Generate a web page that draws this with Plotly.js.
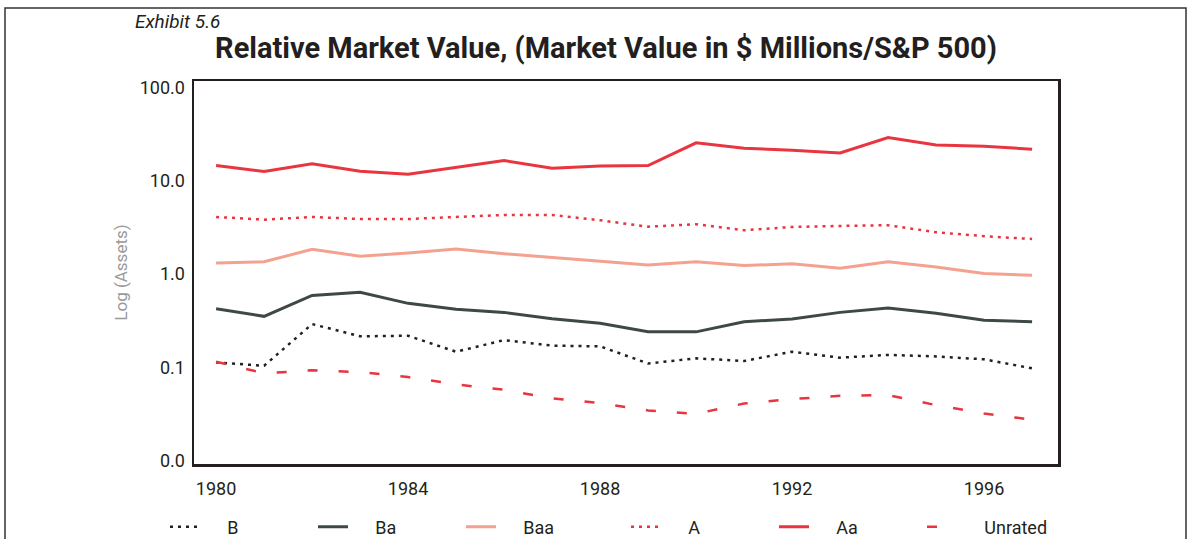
<!DOCTYPE html>
<html>
<head>
<meta charset="utf-8">
<script src="https://cdn.plot.ly/plotly-3.0.1.min.js"></script>
<style>html,body{margin:0;padding:0;background:#fff;}#chart{width:1189px;height:539px;}</style>
</head>
<body>
<div id="chart"></div>
<script>
const years = [1980,1981,1982,1983,1984,1985,1986,1987,1988,1989,1990,1991,1992,1993,1994,1995,1996,1997];
const seriesB = [0.113,0.104,0.291,0.215,0.218,0.147,0.196,0.171,0.168,0.110,0.125,0.117,0.147,0.127,0.136,0.131,0.122,0.0975];
const seriesBa = [0.425,0.352,0.59,0.637,0.485,0.42,0.388,0.332,0.296,0.241,0.24,0.308,0.33,0.388,0.432,0.379,0.319,0.308];
const seriesBaa = [1.31,1.35,1.84,1.55,1.68,1.85,1.65,1.5,1.35,1.25,1.35,1.23,1.29,1.15,1.35,1.19,1.01,0.97];
const seriesA = [4.08,3.82,4.08,3.88,3.88,4.08,4.29,4.29,3.76,3.21,3.41,2.94,3.19,3.27,3.33,2.8,2.54,2.37];
const seriesAa = [14.5,12.5,15.2,12.6,11.7,13.8,16.4,13.6,14.3,14.5,25.4,22.2,21.2,19.8,28.9,24.1,23.4,21.7];
const seriesUnrated = [0.115,0.0863,0.093,0.089,0.0787,0.0657,0.0575,0.0465,0.0414,0.0346,0.0318,0.041,0.0457,0.0497,0.0505,0.0394,0.0321,0.0275];

const seriesNames = ['B','Ba','Baa','A','Aa','Unrated'];
const xTickVals = [1980,1984,1988,1992,1996];
const yTickVals = [0.01,0.1,1,10,100];
const yTickText = ['0.0','0.1','1.0','10.0','100.0'];

const FONT = "Roboto, 'Liberation Sans', sans-serif";
const pad = '\u00A0\u00A0\u00A0\u00A0\u00A0';

const styles = [
  {color:'#231f20', width:2.5, dash:'3px,5px'},
  {color:'#3f4848', width:3, dash:'solid'},
  {color:'#f4a18f', width:3, dash:'solid'},
  {color:'#e8353f', width:2.5, dash:'3px,5px'},
  {color:'#e8353f', width:3, dash:'solid'},
  {color:'#e8353f', width:2.5, dash:'10px,21px'}
];
const values = [seriesB, seriesBa, seriesBaa, seriesA, seriesAa, seriesUnrated];

const traces = values.map((v,i) => ({
  type:'scatter', mode:'lines', x: years, y: v,
  name: pad + seriesNames[i],
  line: styles[i],
  legend: i < 3 ? 'legend' : 'legend2'
}));

const W = 1189, H = 539;
const L = 194, R = 131, T = 81, B = 75;
const pw = W - L - R, ph = H - T - B;
const px = x => (x - L) / pw;
const py = y => (H - B - y) / ph;

const legendBase = {
  orientation:'h', xref:'container', yref:'container',
  xanchor:'left', y: 1 - 527/H, yanchor:'middle',
  entrywidth: 103, entrywidthmode:'pixels',
  font:{family:FONT, size:18, color:'#231f20'},
  bgcolor:'rgba(0,0,0,0)', borderwidth:0, traceorder:'normal'
};

const layout = {
  width: W, height: H,
  margin: {l:L, r:R, t:T, b:B, autoexpand:false},
  paper_bgcolor:'#fff', plot_bgcolor:'#fff',
  font: {family: FONT, color:'#231f20', size:18},
  title: {
    text: 'Relative Market Value, (Market Value in $ Millions/S&P 500)',
    font: {family: FONT, size:29, color:'#231f20', weight:'bold'},
    xref:'container', x: 606/W, xanchor:'center',
    yref:'container', y: 1 - 48/H, yanchor:'middle'
  },
  xaxis: {
    range:[1979.54, 1997.54], tickvals: xTickVals, ticktext: xTickVals.map(String),
    showgrid:false, zeroline:false, showline:true, mirror:true,
    linecolor:'#231f20', linewidth:2.5, ticks:'', ticklabelstandoff: 7,
    tickfont:{family:FONT, size:18, color:'#231f20'}
  },
  yaxis: {
    type:'log', range:[-2.035, 2.067], tickvals: yTickVals, ticktext: yTickText,
    showgrid:false, zeroline:false, showline:true, mirror:true,
    linecolor:'#231f20', linewidth:2.5, ticks:'', ticklabelstandoff: 3,
    tickfont:{family:FONT, size:18, color:'#231f20'},
    title:{text:'Log (Assets)', font:{family:FONT, size:17, color:'#9a9a9a'}, standoff: 8}
  },
  showlegend:true,
  legend: Object.assign({}, legendBase, {x: 165/W}),
  legend2: Object.assign({}, legendBase, {x: 626/W}),
  annotations: [{
    text:'<i>Exhibit 5.6</i>', xref:'paper', yref:'paper',
    x: px(133), xanchor:'left', y: py(21), yanchor:'middle',
    showarrow:false, font:{family:FONT, size:19, color:'#231f20'}
  }],
  shapes: [{
    type:'rect', xref:'paper', yref:'paper',
    x0: px(5), x1: px(1186), y0: py(600), y1: py(8),
    line:{color:'#333', width:1.5}, fillcolor:'rgba(0,0,0,0)', layer:'below'
  }]
};

Plotly.newPlot('chart', traces, layout, {displayModeBar:false, staticPlot:true});
</script>
</body>
</html>
